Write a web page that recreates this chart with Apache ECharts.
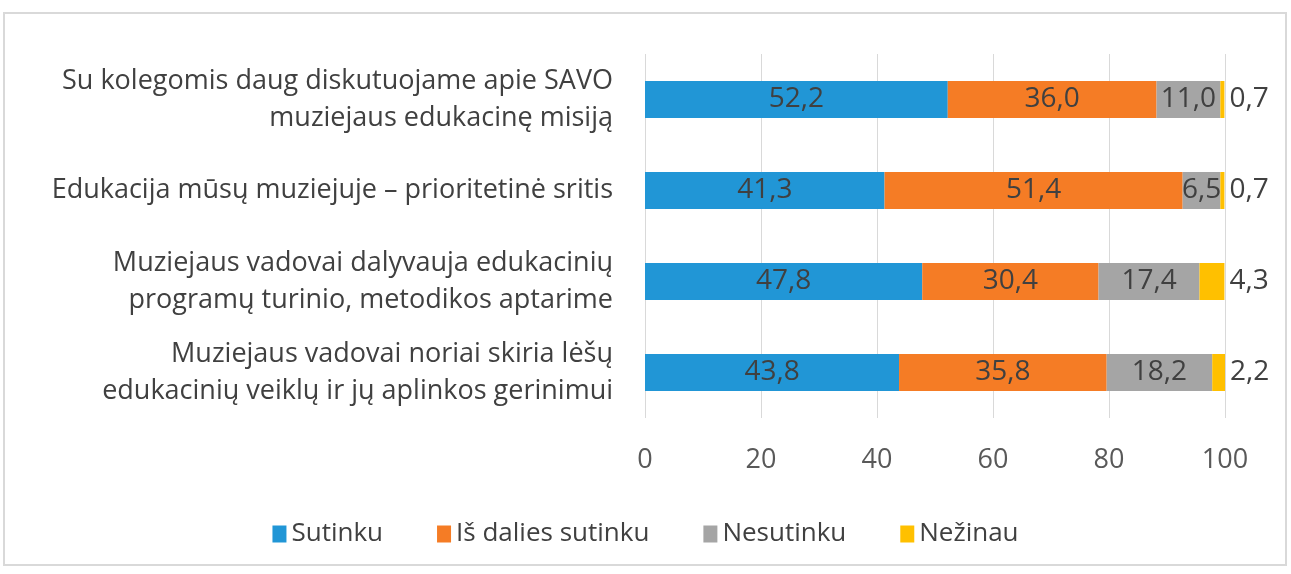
<!DOCTYPE html>
<html><head><meta charset="utf-8">
<script src="https://cdn.jsdelivr.net/npm/echarts@6/dist/echarts.min.js"></script>
<style>html,body{margin:0;padding:0;background:#fff}#c{width:1291px;height:574px}</style>
</head><body><div id="c"></div>
<script>
const categories = [
  "Su kolegomis daug diskutuojame apie SAVO\nmuziejaus edukacinę misiją",
  "Edukacija mūsų muziejuje – prioritetinė sritis",
  "Muziejaus vadovai dalyvauja edukacinių\nprogramų turinio, metodikos aptarime",
  "Muziejaus vadovai noriai skiria lėšų\nedukacinių veiklų ir jų aplinkos gerinimui"
];
const seriesNames = ["Sutinku", "Iš dalies sutinku", "Nesutinku", "Nežinau"];
const sutinku = [52.2, 41.3, 47.8, 43.8];
const isDalies = [36.0, 51.4, 30.4, 35.8];
const nesutinku = [11.0, 6.5, 17.4, 18.2];
const nezinau = [0.7, 0.7, 4.3, 2.2];
const colors = ["#2196d6", "#f57c25", "#a5a5a5", "#ffc000"];
const font = "Open Sans";
const fmt = p => p.value.toFixed(1).replace('.', ',');
const seriesData = [sutinku, isDalies, nesutinku, nezinau];
const chart = echarts.init(document.getElementById('c'));
chart.setOption({
  animation: false,
  textStyle: { fontFamily: font },
  graphic: [{ type: 'rect', shape: { x: 4, y: 13, width: 1282, height: 552 }, style: { fill: 'none', stroke: '#d9d9d9', lineWidth: 2 } }],
  grid: { left: 645, right: 66, top: 54, bottom: 574 - 418 },
  legend: {
    bottom: 22, left: 'center', itemWidth: 14, itemHeight: 17, itemGap: 54, icon: 'rect',
    textStyle: { fontSize: 26, color: '#404040', fontFamily: font }, itemStyle: { borderWidth: 0 },
    data: seriesNames
  },
  xAxis: {
    type: 'value', min: 0, max: 100, interval: 20,
    axisLine: { show: false }, axisTick: { show: false },
    splitLine: { lineStyle: { color: '#d9d9d9', width: 1 } },
    axisLabel: { fontSize: 27, color: '#595959', margin: 29, fontFamily: font }
  },
  yAxis: {
    type: 'category', inverse: true, data: categories,
    axisLine: { show: false }, axisTick: { show: false },
    axisLabel: { fontSize: 27, color: '#404040', lineHeight: 37, margin: 32, align: 'right', fontFamily: font }
  },
  series: seriesData.map((d, i) => ({
    name: seriesNames[i], type: 'bar', stack: 'all', data: d, barWidth: 37,
    itemStyle: { color: colors[i] },
    label: {
      show: true, position: i === 3 ? 'right' : 'inside', distance: 5,
      formatter: fmt, fontSize: 28, color: '#404040', fontFamily: font
    }
  }))
});
</script></body></html>
